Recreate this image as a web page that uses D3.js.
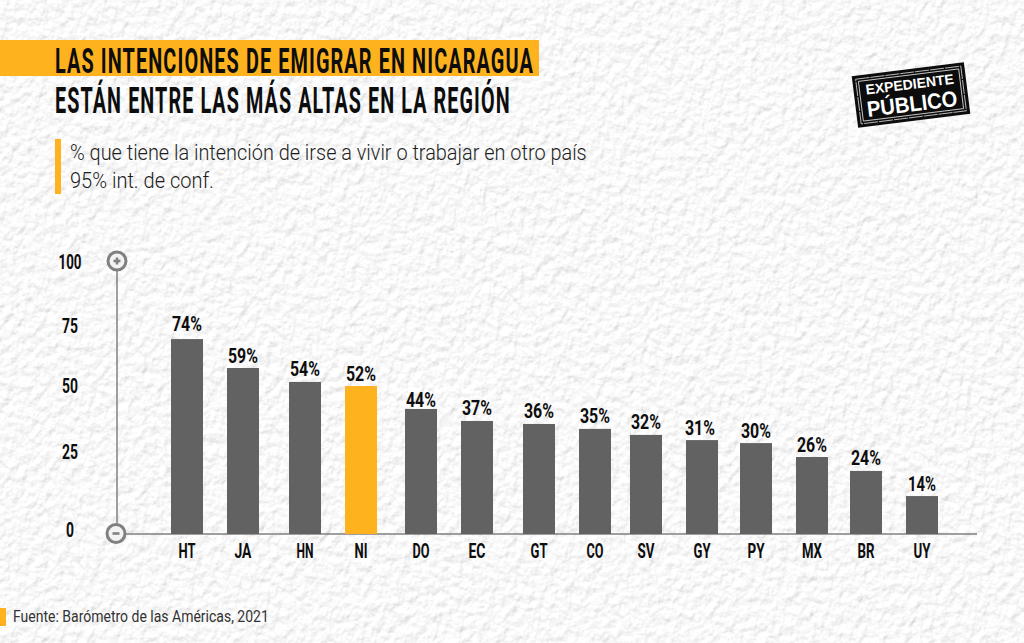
<!DOCTYPE html>
<html><head><meta charset="utf-8">
<script src="https://cdn.jsdelivr.net/npm/d3@7"></script>
<style>html,body{margin:0;padding:0;background:#f3f3f2}svg{display:block}</style>
</head><body><svg id="c" width="1024" height="643"></svg>
<script>
const categories=["HT","JA","HN","NI","DO","EC","GT","CO","SV","GY","PY","MX","BR","UY"];
const barValues=[71.4,60.8,55.7,54.2,45.8,41.4,40.3,38.5,36.3,34.4,33.3,28.2,23.1,13.9];
const valueLabels=["74%","59%","54%","52%","44%","37%","36%","35%","32%","31%","30%","26%","24%","14%"];
const yTicks=[100,75,50,25,0];
const highlight="NI";
const title1="LAS INTENCIONES DE EMIGRAR EN NICARAGUA";
const title2="ESTÁN ENTRE LAS MÁS ALTAS EN LA REGIÓN";
const sub1="% que tiene la intención de irse a vivir o trabajar en otro país";
const sub2="95% int. de conf.";
const source="Fuente: Barómetro de las Américas, 2021";
const logo1="EXPEDIENTE",logo2="PÚBLICO";

const orange="#feb21d",grey="#616261",axisC="#808080",ink="#0d0d0d";
const cond="'Roboto','Liberation Sans Narrow',sans-serif";
const lite="'Roboto','Open Sans',sans-serif";
const svg=d3.select("#c");
const defs=svg.append("defs");
const f=defs.append("filter").attr("id","paper").attr("x",0).attr("y",0).attr("width","100%").attr("height","100%");
f.append("feTurbulence").attr("type","fractalNoise").attr("baseFrequency","0.13 0.1").attr("numOctaves",4).attr("seed",11).attr("result","n");
const l=f.append("feDiffuseLighting").attr("in","n").attr("surfaceScale",1.4).attr("diffuseConstant",1.08).attr("lighting-color","#ffffff");
l.append("feDistantLight").attr("azimuth",70).attr("elevation",62);
svg.append("rect").attr("width",1024).attr("height",643).attr("fill","#f3f3f2");
svg.append("rect").attr("width",1024).attr("height",643).attr("filter","url(#paper)");

// scales: the reference spaces its bars and its tick labels unevenly
const y=d3.scaleLinear().domain([0,100]).range([534,261]);
const x=d3.scaleOrdinal().domain(categories).range([187,243,305,361,421,477,539,595,646,702,756,812,866,922]);
const tickBaseline=d3.scaleOrdinal().domain(yTicks).range([269,333,393,459,537]);
const labelGap=d=>d==="HT"?8:d==="DO"?2:5.5;
const labelShift=d=>d==="GY"?-2:0;
const barW=32;

function fit(sel,w){const n=sel.node();const L=n.getComputedTextLength();const X=+sel.attr("x"),Y=+sel.attr("y");
 sel.attr("transform",`translate(${X},${Y}) scale(${w/L},1) translate(${-X},${-Y})`);return sel;}
function text(t,X,Y,size,w,o={}){const s=(o.parent||svg).append("text").attr("x",X).attr("y",Y).attr("font-family",o.family||cond).attr("font-size",size)
 .attr("font-weight",o.weight||"bold").attr("fill",o.fill||ink).attr("text-anchor",o.anchor||"start").attr("letter-spacing",o.ls||0).text(t);
 return fit(s,w);}

// header
svg.append("rect").attr("x",0).attr("y",40).attr("width",539).attr("height",36).attr("fill",orange);
text(title1,55,73,36,479,{ls:2});
text(title2,55,113,36,456,{ls:2});
svg.append("rect").attr("x",55).attr("y",139).attr("width",6).attr("height",55).attr("fill",orange);
text(sub1,70,160,22,517,{family:lite,weight:300,fill:"#1d1d1d"});
text(sub2,70,188,22,144,{family:lite,weight:300,fill:"#1d1d1d"});

// logo
const g=svg.append("g").attr("transform","translate(911,95) rotate(-7.1)");
g.append("rect").attr("x",-56.5).attr("y",-26).attr("width",113).attr("height",52).attr("fill","#0c0c0c");
g.append("rect").attr("x",-53).attr("y",-22.5).attr("width",106).attr("height",45).attr("fill","none").attr("stroke","#d8d8d8").attr("stroke-width",0.8).attr("stroke-dasharray","14 1");
g.append("rect").attr("x",-50.5).attr("y",-20).attr("width",101).attr("height",40).attr("fill","none").attr("stroke","#e8e8e8").attr("stroke-width",0.8);
text(logo1,0,-6,14,89,{parent:g,anchor:"middle",fill:"#fff",family:"'Liberation Sans',sans-serif"});
text(logo2,0,16.5,22,91,{parent:g,anchor:"middle",fill:"#fff",family:"'Liberation Sans',sans-serif"});

// axes
svg.append("line").attr("x1",117).attr("x2",117).attr("y1",y(100)).attr("y2",y(0)).attr("stroke",axisC).attr("stroke-width",1.5);
svg.append("line").attr("x1",117).attr("x2",977).attr("y1",y(0)).attr("y2",y(0)).attr("stroke",axisC).attr("stroke-width",1.5);

// bars
svg.selectAll("rect.bar").data(categories).join("rect").attr("class","bar")
 .attr("x",d=>x(d)-barW/2).attr("width",barW)
 .attr("y",(d,i)=>y(barValues[i])).attr("height",(d,i)=>y(0)-y(barValues[i]))
 .attr("fill",d=>d===highlight?orange:grey);

// axis end caps
[[117,261],[116,533.5]].forEach(([cxx,cy],i)=>{
 svg.append("circle").attr("cx",cxx).attr("cy",cy).attr("r",9).attr("fill","#f3f3f2").attr("stroke",axisC).attr("stroke-width",3);
 const w=7;
 svg.append("line").attr("x1",cxx-w/2).attr("x2",cxx+w/2).attr("y1",cy).attr("y2",cy).attr("stroke",axisC).attr("stroke-width",2.6);
 if(!i) svg.append("line").attr("x1",cxx).attr("x2",cxx).attr("y1",cy-w/2).attr("y2",cy+w/2).attr("stroke",axisC).attr("stroke-width",2.6);
});

// tick labels
yTicks.forEach(t=>{text(String(t),70,tickBaseline(t),20,t===100?23:t===0?8:16,{anchor:"middle"});});
categories.forEach((c,i)=>{
 text(c,x(c),558,20.5,c==="NI"?13:c==="MX"?20:17,{anchor:"middle"});
 text(valueLabels[i],x(c)+labelShift(c),y(barValues[i])-labelGap(c),21,c==="UY"?28:30,{anchor:"middle"});
});

// source
svg.append("rect").attr("x",0).attr("y",608).attr("width",6).attr("height",18).attr("fill",orange);
text(source,13,622.5,17,256,{family:lite,weight:400,fill:"#333"});
</script></body></html>
